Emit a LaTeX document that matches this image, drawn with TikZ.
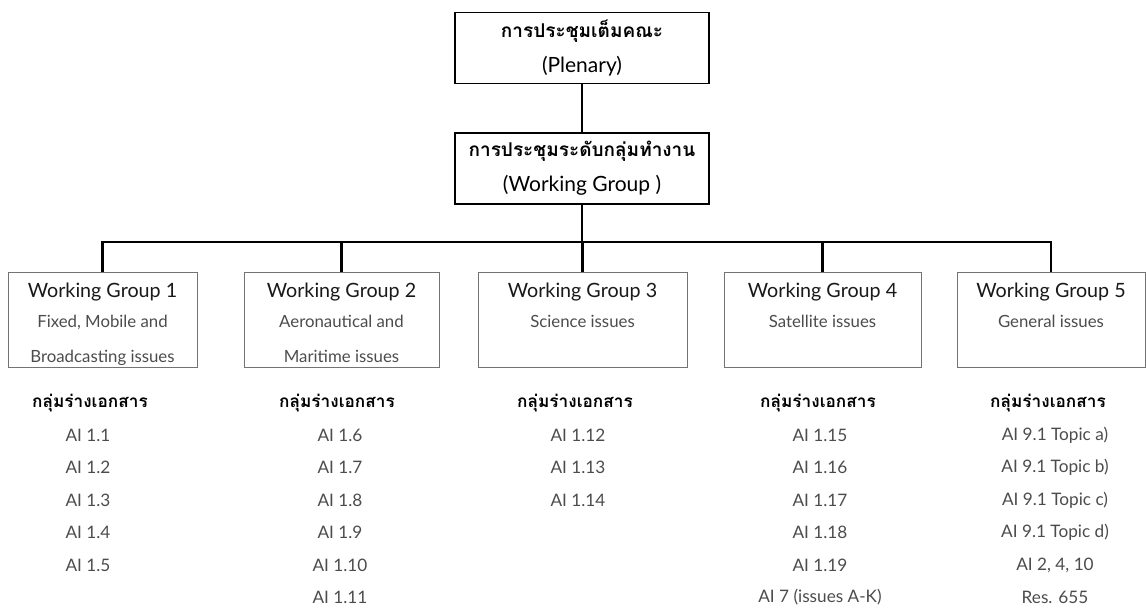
\documentclass[tikz,border=0pt]{standalone}
\usepackage{fontspec}
\setmainfont{Lato}
\newfontfamily\thaifont[Script=Thai]{Loma}
\begin{document}
\begin{tikzpicture}[x=1pt, y=-1pt,
    topbox/.style={draw=black, line width=1.3pt, minimum width=254pt, minimum height=71pt,
        align=center, inner sep=0pt, font=\fontsize{21}{35}\selectfont},
    wgbox/.style={draw=black!55, line width=0.9pt, minimum height=95pt, inner sep=0pt},
    wgtitle/.style={text=black!90, font=\fontsize{19.7}{22}\selectfont},
    wgsub/.style={align=center, text=black!70, font=\fontsize{16.8}{34.5}\selectfont},
    link/.style={line width=2.6pt},
    draft/.style={font=\thaifont\bfseries\fontsize{17.2}{20}\selectfont},
    item/.style={text=black!70, font=\fontsize{17.2}{20}\selectfont}]
    \useasboundingbox (0,0) rectangle (1146,612);

    % ระดับบน
    \node[topbox] (plenary) at (582,48) {{\thaifont\bfseries\fontsize{19}{35}\selectfont การประชุมเต็มคณะ}\\(Plenary)};
    \node[topbox] (wg) at (582,168.5) {{\thaifont\bfseries\fontsize{19}{35}\selectfont การประชุมระดับกลุ่มทำงาน}\\(Working Group )};

    % กลุ่มทำงานย่อย
    \node[wgbox, minimum width=189pt] (wg1) at (102.5,319.5) {};
    \node[wgtitle] (wg1t) at (102.5,292) {Working Group 1};
    \node[wgsub, anchor=north] (wg1s) at (102.5,312) {Fixed, Mobile and\\Broadcasting issues};

    \node[wgbox, minimum width=195pt] (wg2) at (341.5,319.5) {};
    \node[wgtitle] (wg2t) at (341.5,292) {Working Group 2};
    \node[wgsub, anchor=north] (wg2s) at (341.5,312) {Aeronautical and\\Maritime issues};

    \node[wgbox, minimum width=209pt] (wg3) at (582.5,319.5) {};
    \node[wgtitle] (wg3t) at (582.5,292) {Working Group 3};
    \node[wgsub, anchor=north] (wg3s) at (582.5,312) {Science issues};

    \node[wgbox, minimum width=197pt] (wg4) at (822.5,319.5) {};
    \node[wgtitle] (wg4t) at (822.5,292) {Working Group 4};
    \node[wgsub, anchor=north] (wg4s) at (822.5,312) {Satellite issues};

    \node[wgbox, minimum width=188pt] (wg5) at (1051,319.5) {};
    \node[wgtitle] (wg5t) at (1051,292) {Working Group 5};
    \node[wgsub, anchor=north] (wg5s) at (1051,312) {General issues};

    % เส้นเชื่อม
    \coordinate (bar) at (582,242);
    \draw[link] (plenary) -- (wg);
    \draw[link] (wg) -- (bar);
    \draw[link] (wg1.north) |- (bar) -| (wg5.north);
    \foreach \g in {2,3,4}
        \draw[link] (wg\g.north) -- (wg\g.north |- bar);

    % กลุ่มร่างเอกสาร
    \node[draft] (d1) at (90,403) {กลุ่มร่างเอกสาร};
    \foreach \t [count=\i] in {AI 1.1, AI 1.2, AI 1.3, AI 1.4, AI 1.5}
        \node[item, anchor=west] (d1-\i) at (62,402.5+32.5*\i) {\t};

    \node[draft] (d2) at (337,403) {กลุ่มร่างเอกสาร};
    \foreach \t [count=\i] in {AI 1.6, AI 1.7, AI 1.8, AI 1.9, AI 1.10, AI 1.11}
        \node[item] (d2-\i) at (340,402.5+32.5*\i) {\t};

    \node[draft] (d3) at (575,403) {กลุ่มร่างเอกสาร};
    \foreach \t [count=\i] in {AI 1.12, AI 1.13, AI 1.14}
        \node[item] (d3-\i) at (578,402.5+32.5*\i) {\t};

    \node[draft] (d4) at (818,403) {กลุ่มร่างเอกสาร};
    \foreach \t [count=\i] in {AI 1.15, AI 1.16, AI 1.17, AI 1.18, AI 1.19, AI 7 (issues A-K)}
        \node[item] (d4-\i) at (820,402.5+32.5*\i) {\t};

    \node[draft] (d5) at (1048,403) {กลุ่มร่างเอกสาร};
    \foreach \t [count=\i] in {AI 9.1 Topic a), AI 9.1 Topic b), AI 9.1 Topic c), AI 9.1 Topic d), {AI 2, 4, 10}, Res. 655}
        \node[item] (d5-\i) at (1055,402.5+32.5*\i) {\t};
\end{tikzpicture}
\end{document}
